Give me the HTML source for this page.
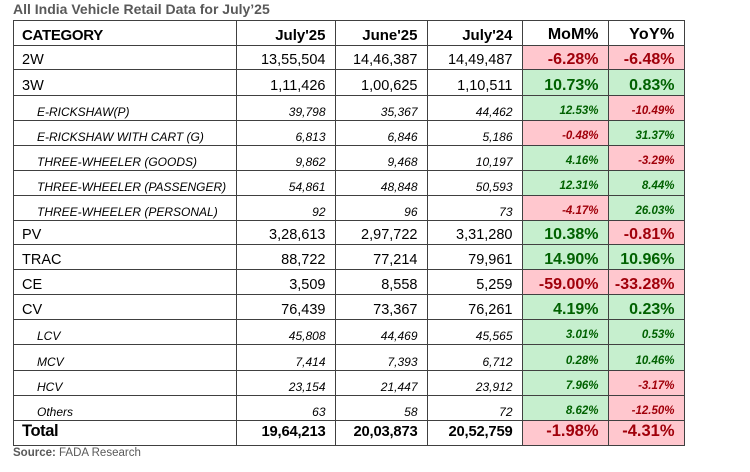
<!DOCTYPE html>
<html><head><meta charset="utf-8"><style>
*{margin:0;padding:0;box-sizing:border-box}
html,body{width:750px;height:472px;background:#fff;overflow:hidden}
body{position:relative;font-family:"Liberation Sans",Arial,sans-serif;color:#000}
.title{position:absolute;left:13px;top:2px;font-size:14px;font-weight:bold;color:#595959;line-height:1;white-space:nowrap}
.src{position:absolute;left:13px;top:447.5px;font-size:11.5px;color:#595959;line-height:1;white-space:nowrap}
.src b{font-weight:bold}
.r{position:absolute;left:0;width:750px}
.r>div{position:absolute;line-height:1;white-space:nowrap}
.fg{top:0;bottom:0;width:86px;background:#C6EFCE}
.fr{top:0;bottom:0;width:86px;background:#FFC7CE}
.f5{left:608px;width:76px}
.f4{left:522px}
.m{font-size:14.5px;bottom:1.8px}
.mp{font-size:16px;font-weight:bold;bottom:1.5px}
.i{font-size:12px;font-style:italic;bottom:2.2px}
.ip{font-size:11.5px;font-style:italic;font-weight:bold;bottom:2.2px}
.h{font-size:15px;font-weight:bold;bottom:1.7px}
.tl{font-size:16.5px;font-weight:bold;bottom:5.5px}
.tn{font-size:14.8px;font-weight:bold;bottom:5.7px;letter-spacing:-0.2px}
.tp{font-size:16.5px;font-weight:bold;bottom:5.4px}
.L{left:22px}
.Li{left:37px}
.c1{right:424.5px}.c2{right:332.5px}.c3{right:237.5px}.c4{right:151.5px}.c5{right:75.5px}
.g{color:#006100}.rd{color:#A0000A}
.hl{position:absolute;left:13px;width:672px;height:1px;background:#404040}
.vl{position:absolute;top:20px;height:426px;width:1px;background:#404040}
</style></head><body>
<div class="title">All India Vehicle Retail Data for July’25</div>

<div class="r" style="top:20px;height:25px">
<div class="h L" style="letter-spacing:-0.3px">CATEGORY</div>
<div class="h c1">July'25</div><div class="h c2">June'25</div><div class="h c3">July'24</div>
<div class="h c4" style="font-size:16px">MoM%</div><div class="h c5" style="font-size:16px;letter-spacing:0.3px">YoY%</div>
</div>

<div class="r" style="top:45px;height:24px">
<div class="fr f4"></div><div class="fr f5"></div>
<div class="m L">2W</div>
<div class="m c1">13,55,504</div><div class="m c2">14,46,387</div><div class="m c3">14,49,487</div>
<div class="mp c4 rd">-6.28%</div><div class="mp c5 rd">-6.48%</div>
</div>

<div class="r" style="top:69px;height:26px">
<div class="fg f4"></div><div class="fg f5"></div>
<div class="m L">3W</div>
<div class="m c1">1,11,426</div><div class="m c2">1,00,625</div><div class="m c3">1,10,511</div>
<div class="mp c4 g">10.73%</div><div class="mp c5 g">0.83%</div>
</div>

<div class="r" style="top:95px;height:25px">
<div class="fg f4"></div><div class="fr f5"></div>
<div class="i Li">E-RICKSHAW(P)</div>
<div class="i c1">39,798</div><div class="i c2">35,367</div><div class="i c3">44,462</div>
<div class="ip c4 g">12.53%</div><div class="ip c5 rd">-10.49%</div>
</div>

<div class="r" style="top:120px;height:25px">
<div class="fr f4"></div><div class="fg f5"></div>
<div class="i Li">E-RICKSHAW WITH CART (G)</div>
<div class="i c1">6,813</div><div class="i c2">6,846</div><div class="i c3">5,186</div>
<div class="ip c4 rd">-0.48%</div><div class="ip c5 g">31.37%</div>
</div>

<div class="r" style="top:145px;height:25px">
<div class="fg f4"></div><div class="fr f5"></div>
<div class="i Li">THREE-WHEELER (GOODS)</div>
<div class="i c1">9,862</div><div class="i c2">9,468</div><div class="i c3">10,197</div>
<div class="ip c4 g">4.16%</div><div class="ip c5 rd">-3.29%</div>
</div>

<div class="r" style="top:170px;height:25px">
<div class="fg f4"></div><div class="fg f5"></div>
<div class="i Li">THREE-WHEELER (PASSENGER)</div>
<div class="i c1">54,861</div><div class="i c2">48,848</div><div class="i c3">50,593</div>
<div class="ip c4 g">12.31%</div><div class="ip c5 g">8.44%</div>
</div>

<div class="r" style="top:195px;height:25px">
<div class="fr f4"></div><div class="fg f5"></div>
<div class="i Li">THREE-WHEELER (PERSONAL)</div>
<div class="i c1">92</div><div class="i c2">96</div><div class="i c3">73</div>
<div class="ip c4 rd">-4.17%</div><div class="ip c5 g">26.03%</div>
</div>

<div class="r" style="top:220px;height:24px">
<div class="fg f4"></div><div class="fr f5"></div>
<div class="m L">PV</div>
<div class="m c1">3,28,613</div><div class="m c2">2,97,722</div><div class="m c3">3,31,280</div>
<div class="mp c4 g">10.38%</div><div class="mp c5 rd">-0.81%</div>
</div>

<div class="r" style="top:244px;height:25px">
<div class="fg f4"></div><div class="fg f5"></div>
<div class="m L">TRAC</div>
<div class="m c1">88,722</div><div class="m c2">77,214</div><div class="m c3">79,961</div>
<div class="mp c4 g">14.90%</div><div class="mp c5 g">10.96%</div>
</div>

<div class="r" style="top:269px;height:25px">
<div class="fr f4"></div><div class="fr f5"></div>
<div class="m L">CE</div>
<div class="m c1">3,509</div><div class="m c2">8,558</div><div class="m c3">5,259</div>
<div class="mp c4 rd">-59.00%</div><div class="mp c5 rd">-33.28%</div>
</div>

<div class="r" style="top:294px;height:25px">
<div class="fg f4"></div><div class="fg f5"></div>
<div class="m L">CV</div>
<div class="m c1">76,439</div><div class="m c2">73,367</div><div class="m c3">76,261</div>
<div class="mp c4 g">4.19%</div><div class="mp c5 g">0.23%</div>
</div>

<div class="r" style="top:319px;height:25px">
<div class="fg f4"></div><div class="fg f5"></div>
<div class="i Li">LCV</div>
<div class="i c1">45,808</div><div class="i c2">44,469</div><div class="i c3">45,565</div>
<div class="ip c4 g">3.01%</div><div class="ip c5 g">0.53%</div>
</div>

<div class="r" style="top:344px;height:26px">
<div class="fg f4"></div><div class="fg f5"></div>
<div class="i Li">MCV</div>
<div class="i c1">7,414</div><div class="i c2">7,393</div><div class="i c3">6,712</div>
<div class="ip c4 g">0.28%</div><div class="ip c5 g">10.46%</div>
</div>

<div class="r" style="top:370px;height:25px">
<div class="fg f4"></div><div class="fr f5"></div>
<div class="i Li">HCV</div>
<div class="i c1">23,154</div><div class="i c2">21,447</div><div class="i c3">23,912</div>
<div class="ip c4 g">7.96%</div><div class="ip c5 rd">-3.17%</div>
</div>

<div class="r" style="top:395px;height:25px">
<div class="fg f4"></div><div class="fr f5"></div>
<div class="i Li">Others</div>
<div class="i c1">63</div><div class="i c2">58</div><div class="i c3">72</div>
<div class="ip c4 g">8.62%</div><div class="ip c5 rd">-12.50%</div>
</div>

<div class="r" style="top:420px;height:25px">
<div class="fr f4"></div><div class="fr f5"></div>
<div class="tl L" style="letter-spacing:-0.4px">Total</div>
<div class="tn c1">19,64,213</div><div class="tn c2">20,03,873</div><div class="tn c3">20,52,759</div>
<div class="tp c4 rd">-1.98%</div><div class="tp c5 rd">-4.31%</div>
</div>

<div class="hl" style="top:20px"></div>
<div class="hl" style="top:45px"></div>
<div class="hl" style="top:69px"></div>
<div class="hl" style="top:95px"></div>
<div class="hl" style="top:120px"></div>
<div class="hl" style="top:145px"></div>
<div class="hl" style="top:170px"></div>
<div class="hl" style="top:195px"></div>
<div class="hl" style="top:220px"></div>
<div class="hl" style="top:244px"></div>
<div class="hl" style="top:269px"></div>
<div class="hl" style="top:294px"></div>
<div class="hl" style="top:319px"></div>
<div class="hl" style="top:344px"></div>
<div class="hl" style="top:370px"></div>
<div class="hl" style="top:395px"></div>
<div class="hl" style="top:420px"></div>
<div class="hl" style="top:445px"></div>
<div class="vl" style="left:13px"></div>
<div class="vl" style="left:236px"></div>
<div class="vl" style="left:335px"></div>
<div class="vl" style="left:427px"></div>
<div class="vl" style="left:522px"></div>
<div class="vl" style="left:608px"></div>
<div class="vl" style="left:684px"></div>

<div class="src"><b>Source:</b> FADA Research</div>
</body></html>
